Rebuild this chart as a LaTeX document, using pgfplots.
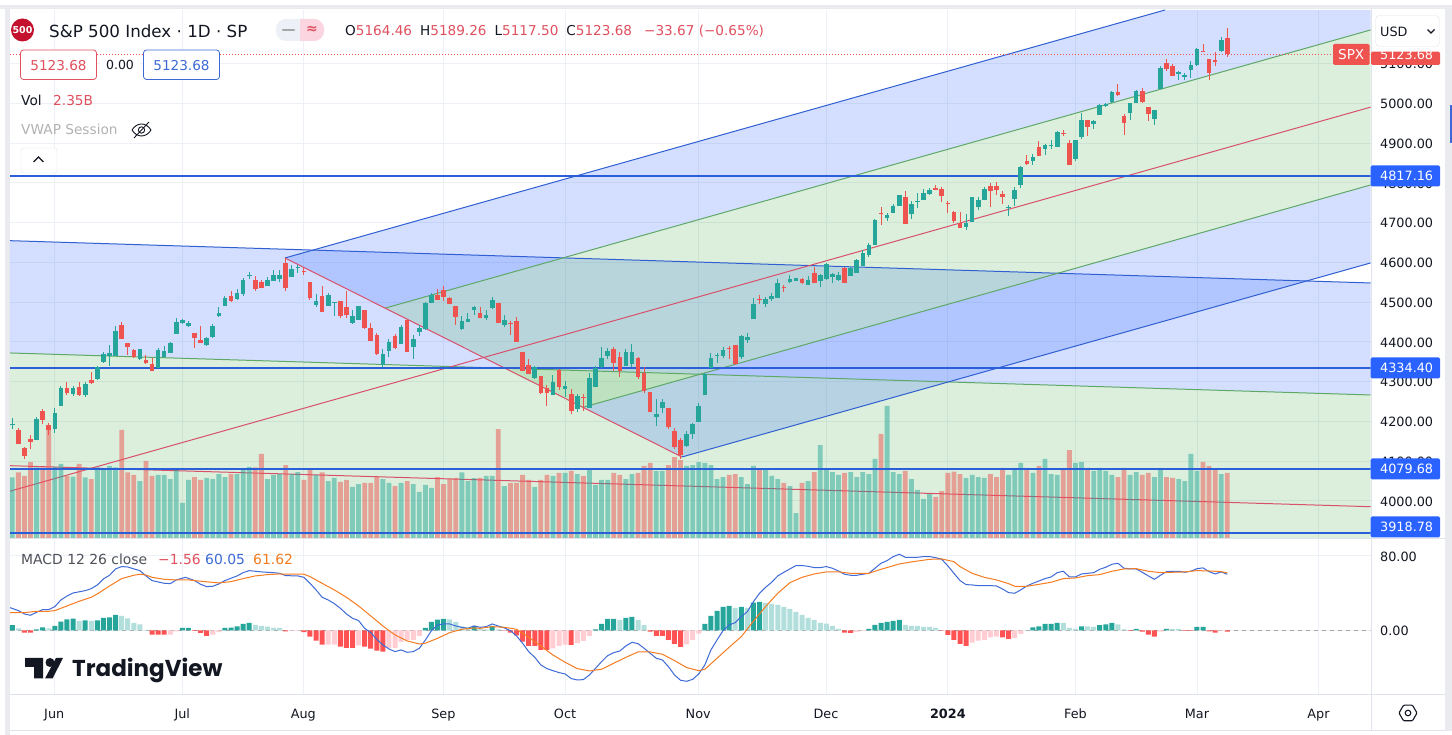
\documentclass[border=0pt]{standalone}
\usepackage{pgfplots}
\usepackage{pgfplotstable}
\usepackage{fontspec}
\pgfplotsset{compat=1.18}
\setmainfont{DejaVu Sans}
\newfontfamily\logofont{Poppins}
\definecolor{cg}{HTML}{26A69A}
\definecolor{cr}{HTML}{EF5350}
\definecolor{hdg}{HTML}{26A69A}
\definecolor{hlg}{HTML}{B2DFDB}
\definecolor{hdr}{HTML}{FF5252}
\definecolor{hlr}{HTML}{FFCDD2}
\definecolor{fb}{HTML}{2962FF}
\definecolor{fg}{HTML}{4CAF50}
\definecolor{lb}{HTML}{2F5FD0}
\definecolor{lg}{HTML}{5FA868}
\definecolor{lr}{HTML}{D9506A}
\definecolor{hl}{HTML}{2B5FD9}
\definecolor{lab}{HTML}{2962FF}
\definecolor{txt}{HTML}{131722}
\definecolor{gridc}{HTML}{EDF0F6}
\definecolor{sep}{HTML}{E0E3EB}
\definecolor{band}{HTML}{E9EBEE}
\definecolor{mb}{HTML}{3D6AD6}
\definecolor{mo}{HTML}{F57C20}
\definecolor{ttr}{HTML}{E0505E}
\definecolor{circ}{HTML}{C4122E}
\definecolor{pil}{HTML}{FBD5E0}

\pgfplotstableread{
i o h l c v
0 4190.5 4207 4180 4193 2.19
4 4153 4211.5 4152 4205.6 2.55
7 4180.5 4232.5 4171 4220.7 2.57
8 4238 4289.5 4238 4283.7 2.67
10 4268.5 4289.5 4264 4283.7 2.22
12 4266 4299 4262 4293.7 2.19
14 4307 4339 4305 4337 2.55
15 4350 4375 4347 4369 2.48
16 4363 4392 4339 4371 2.60
17 4363 4440 4363 4428 2.55
21 4356 4382 4353 4382 2.06
24 4335 4384 4335 4379 2.28
25 4362.5 4389 4359 4376 2.28
26 4372.5 4398.5 4372 4398 2.13
27 4419.5 4459 4419 4450.5 2.46
28 4448 4458 4445 4455 1.28
29 4440 4453 4437 4447 2.10
32 4392 4411 4389 4409 2.17
33 4412 4445 4409 4440 2.13
34 4465 4487 4462 4472 2.31
35 4490 4516 4490 4510 2.20
37 4508 4533 4505 4523 2.31
38 4520 4560 4516 4555 2.48
39 4565.5 4576 4558 4567 2.57
42 4540 4562 4540 4555 2.13
43 4553 4580.5 4553 4568 2.28
44 4558 4580.5 4549.5 4568 2.31
46 4564 4593 4562 4583 2.31
47 4585.5 4593 4574 4587 2.38
50 4492.5 4520 4486.6 4503.4 2.28
52 4490 4522 4490 4517.6 2.06
53 4498 4501 4465 4501 2.17
56 4448 4480 4445 4465 1.85
57 4455 4490 4455 4490 1.95
61 4340.7 4381 4337 4369 2.13
62 4377.6 4406 4361 4400 1.99
64 4394 4442 4394 4438 1.99
66 4387 4417 4357 4406 1.95
67 4424.5 4442 4414.5 4434.6 1.67
68 4431 4500 4429.6 4498 1.92
69 4498 4522 4496.7 4517 1.81
74 4431 4465 4429.6 4451 2.37
75 4450 4473 4450 4457 2.06
76 4480 4490 4467 4487 2.16
78 4460 4480 4455 4468 2.24
79 4484 4513.5 4482.5 4506 2.24
81 4443 4467 4436 4455 1.88
86 4308 4339 4305.5 4336 1.85
89 4265 4316 4265 4299 2.24
91 4282 4301 4262 4289 2.35
93 4232 4268 4222 4264 2.31
95 4234 4322 4234 4309 2.46
96 4287 4339 4285 4333 1.92
97 4336 4386 4334 4359 2.10
98 4364 4383.5 4356 4377 2.10
101 4339 4383 4339 4374 2.13
102 4344 4394 4336 4374 2.31
106 4210 4257 4188 4218 2.42
107 4234 4256 4220 4248.5 2.42
111 4138 4176 4134 4168 2.60
112 4168 4195 4155 4193 2.63
113 4198 4245 4198 4238 2.74
114 4266 4320.6 4266 4319 2.71
115 4334 4372.6 4333 4359 2.63
116 4365 4372.6 4347.5 4367 2.13
117 4364 4386 4358 4379 2.20
120 4362.5 4417 4356 4414.5 2.20
121 4404.5 4421 4398 4412 1.95
122 4458 4509 4458 4495 2.60
124 4495 4513.5 4488 4508.5 2.46
125 4507 4523.6 4503.5 4515 2.24
126 4510 4557 4510 4549 2.13
128 4550 4568 4547 4559 1.88
129 4554 4561 4553 4560.5 0.91
131 4544 4565.5 4542 4555.5 2.06
133 4554 4570 4539 4569 3.35
134 4557 4599 4555.5 4596 2.46
135 4564 4572 4549 4570.6 2.38
136 4555.5 4575.6 4554 4567 2.28
138 4565.5 4587 4565 4585.6 2.38
139 4574 4607.5 4572 4606 2.20
140 4590.7 4631 4590 4622.6 2.38
141 4617.5 4648 4614 4643 2.31
142 4643.5 4708 4643 4706 2.85
144 4711 4725 4705 4720 4.75
145 4725 4747 4723 4741.6 2.38
146 4741.6 4769 4741 4769 2.31
148 4721.5 4753 4709 4746.6 2.13
149 4752.5 4773.5 4736.6 4755 1.74
150 4756.7 4783.5 4756 4774 1.42
151 4772 4786 4770 4782 1.59
157 4689.6 4721.5 4681 4699.6 2.17
158 4702 4764 4702 4764 2.28
159 4738 4765 4731.5 4756.7 2.20
160 4756.7 4790 4756 4784 2.17
164 4735.7 4743 4717 4738 2.28
165 4759 4788.6 4741.6 4782 2.53
166 4794 4842 4787 4840.5 2.71
168 4854 4871.6 4845 4865.7 2.35
170 4886 4897.6 4870.7 4895 2.85
171 4891.7 4907.6 4884 4894 2.31
172 4890 4931 4889 4928.6 2.28
175 4859 4907.6 4855 4907.6 2.71
176 4915 4974.7 4909 4958 2.74
178 4947 4958 4935 4955.5 2.42
179 4970.5 4997 4970 4995.7 2.53
180 4993 5000 4990.7 4998 2.42
181 5002 5031 5001.6 5028 2.28
184 4974.7 5001.6 4958 5001.6 2.28
185 5000.7 5033.5 5000 5031 2.38
188 4960.5 4983 4945 4982 2.20
189 5036 5094 5035 5088 2.53
192 5073.7 5082 5058.6 5078.7 2.13
193 5067 5077 5058.6 5072 2.06
194 5083.8 5105.6 5063.6 5096 3.03
195 5096 5140 5095 5135.8 2.42
199 5132 5166 5130 5159 2.31
}\upc

\pgfplotstableread{
i o h l c v
1 4178 4184 4142 4143 2.37
2 4133 4134 4106 4112 2.24
3 4155 4165 4130 4148 2.74
5 4226 4230 4193 4203 2.55
6 4190.5 4196 4165 4178 3.89
9 4283.7 4299 4266 4270 2.24
11 4287 4299 4264 4266 2.67
13 4304 4324 4293 4296 2.13
18 4442 4450 4406 4407 3.89
19 4396 4398 4367 4388 2.37
20 4379 4383 4359 4362.5 2.28
22 4354 4367 4343 4346 2.78
23 4343 4359 4327 4327 2.24
30 4422 4422 4384 4409 2.20
31 4404 4440 4397 4398 2.10
36 4515 4528 4501 4503 2.31
40 4555 4565.5 4528 4532 2.55
41 4550 4555 4535 4535 3.03
45 4599 4610.7 4528.5 4535 2.63
48 4578 4585 4568 4576 2.10
49 4549.5 4550 4505 4509 2.46
51 4515 4540 4475 4475 2.37
54 4501.7 4502.5 4461 4465 2.03
55 4487.4 4528.5 4461 4467 2.10
58 4480 4480 4433 4434.6 1.99
59 4434.6 4448 4402 4402 1.99
60 4418 4421 4367 4368 2.22
63 4414.5 4419.5 4382.6 4384 1.88
65 4455 4456 4374 4374 2.06
70 4517.6 4532 4505 4505 2.20
71 4530 4540 4503.4 4513.4 1.95
72 4510 4513 4494 4495 2.13
73 4490 4490 4442 4463 2.17
77 4473 4488 4459 4459 2.17
80 4497 4498 4448 4448 3.92
82 4446 4452 4417 4445 1.99
83 4452 4461.5 4400 4400 1.99
84 4373.5 4375 4327 4327 2.28
85 4341 4356 4318 4319 2.10
87 4314 4314 4268.6 4272 2.10
88 4284 4291 4239 4272 2.28
90 4329 4331 4279 4287 2.35
92 4269 4281 4217 4227 2.42
94 4260 4268 4226 4259 2.24
99 4383 4386 4327 4347.5 2.35
100 4362 4375 4312 4326 2.28
103 4358 4362.5 4305.5 4312 2.35
104 4321 4337 4270 4277 2.60
105 4274 4274.5 4222 4222 2.71
108 4234 4234 4181 4185 2.63
109 4176 4183 4129 4134 2.92
110 4153 4157 4104 4115 2.81
118 4384 4389 4357.5 4383 2.28
119 4393 4393 4342 4344 2.31
123 4507 4518.5 4495 4505 2.49
127 4537 4543 4525 4535 1.99
130 4557 4560.5 4545 4549 1.99
132 4574 4589 4547 4549 2.38
137 4585.6 4587 4549 4549 2.35
143 4723 4738 4694 4720.6 3.75
147 4764 4778.5 4697 4697 2.42
152 4787 4793.6 4782 4782.7 1.49
153 4784 4788.6 4751.6 4766.7 1.70
154 4750 4753 4723 4748 2.35
155 4726.5 4728 4699.6 4704.7 2.40
156 4698 4726.5 4686 4686 2.31
161 4792 4800 4740 4779 2.31
162 4792 4801 4768 4782 2.20
163 4772 4780 4746.6 4763 2.53
167 4854 4869 4845 4847 2.53
169 4891 4905 4867 4867 2.60
173 4926 4933 4917.7 4923.6 2.46
174 4900 4907.6 4844 4844.7 3.17
177 4958 4958 4917.7 4941 2.53
182 5027.6 5048.5 5018 5020 2.20
183 4968 4972 4920 4950 2.53
186 5031 5037.6 5001.6 5003 2.28
187 4990.7 4991.5 4956 4973 2.35
190 5102 5110.6 5082 5086 2.20
191 5094 5098 5068 5068.7 2.17
196 5131.6 5149 5129 5129 2.74
197 5110.6 5111.5 5058.6 5076 2.60
198 5109 5128 5094.7 5104 2.49
200 5164.46 5189.26 5117.50 5123.68 2.35
}\dnc

\pgfplotsset{
  tv/.style={
    scale only axis, width=1360.5pt,
    xmin=-0.38, xmax=223.57,
    tick style={draw=none},
    axis line style={draw=none},
    clip=true,
  },
  ticktxt/.style={
    yticklabel pos=right,
    yticklabel style={anchor=west,inner sep=0pt,xshift=9.5pt,yshift=-0.8pt,font=\fontsize{12.8}{15}\selectfont,text=txt,
      /pgf/number format/.cd,fixed,fixed zerofill,precision=2,1000 sep={},assume math mode=true},
  },
}

\begin{document}
\begin{tikzpicture}[x=1pt,y=1pt]
\fill[white] (0,0) rectangle (1452,735);
\fill[band] (0,726) rectangle (1452,730);
\fill[band] (5,0) rectangle (10,726);
\fill[band] (1445,4) rectangle (1452,726);

% ---- main pane: channels
\begin{axis}[tv, at={(10pt,196.5pt)}, anchor=south west, height=528.5pt,
  ymin=3905, ymax=5234.7, ticktxt,
  ytick={4000,4100,4200,4300,4400,4500,4600,4700,4800,4900,5000,5100},
  xtick={6.9,27.98,47.9,70.95,90.98,112.9,133.94,154,175,195,215},
  xticklabels={},
  grid=both, grid style={gridc,line width=0.8pt}]
% descending channel
\addplot[fill=fb,fill opacity=.2,draw=none] coordinates {(-0.38,4654.3)(223.57,4547.9)(223.57,4266.1)(-0.38,4371.8)} -- cycle;
\addplot[fill=fg,fill opacity=.2,draw=none] coordinates {(-0.38,4371.8)(223.57,4266.1)(223.57,3905)(-0.38,3905)} -- cycle;
% rising pitchfork
\addplot[fill=fb,fill opacity=.2,draw=none] coordinates {(44.89,4610.8)(189.75,5234.7)(223.57,5234.7)(223.57,5184.4)(61.35,4484.5)} -- cycle;
\addplot[fill=fg,fill opacity=.2,draw=none] coordinates {(61.35,4484.5)(223.57,5184.4)(223.57,4794.4)(93.94,4235.1)} -- cycle;
\addplot[fill=fb,fill opacity=.2,draw=none] coordinates {(93.94,4235.1)(223.57,4794.4)(223.57,4598.2)(110.24,4110.1)} -- cycle;
% lines
\addplot[lb,line width=1pt] coordinates {(-0.38,4654.3)(223.57,4547.9)};
\addplot[lg,line width=1pt] coordinates {(-0.38,4371.8)(223.57,4266.1)};
\addplot[lr,line width=1pt] coordinates {(-0.38,4088.2)(223.57,3985)};
\addplot[lb,line width=1pt] coordinates {(44.89,4610.8)(189.75,5234.7)};
\addplot[lb,line width=1pt] coordinates {(110.24,4110.1)(223.57,4598.2)};
\addplot[lg,line width=1pt] coordinates {(61.35,4484.5)(223.57,5184.4)};
\addplot[lg,line width=1pt] coordinates {(93.94,4235.1)(223.57,4794.4)};
\addplot[lr,line width=1pt] coordinates {(-0.38,4024)(223.57,4990.2)};
\addplot[lr,line width=1pt] coordinates {(44.89,4610.8)(110.24,4110.1)};
\end{axis}

% ---- volume
\begin{axis}[tv, at={(10pt,196.5pt)}, anchor=south west, height=528.5pt,
  ymin=0, ymax=18.94, xtick=\empty, ytick=\empty]
\addplot[ybar,bar width=4.8pt,bar shift=0pt,fill=cg,fill opacity=.5,draw=none] table[x=i,y=v] {\upc};
\addplot[ybar,bar width=4.8pt,bar shift=0pt,fill=cr,fill opacity=.5,draw=none] table[x=i,y=v] {\dnc};
\end{axis}

% ---- candles and horizontal levels
\begin{axis}[tv, at={(10pt,196.5pt)}, anchor=south west, height=528.5pt,
  ymin=3905, ymax=5234.7, xtick=\empty, ytick=\empty]
\addplot[hl,line width=2pt] coordinates {(-0.38,4817.16)(223.57,4817.16)};
\addplot[hl,line width=2pt] coordinates {(-0.38,4334.40)(223.57,4334.40)};
\addplot[hl,line width=2pt] coordinates {(-0.38,4079.68)(223.57,4079.68)};
\addplot[hl,line width=2pt] coordinates {(-0.38,3918.78)(223.57,3918.78)};
\addplot[cr,line width=0.7pt,dash pattern=on 1pt off 2pt] coordinates {(-0.38,5123.68)(223.57,5123.68)};
% wicks
\addplot[draw=none,mark=none,error bars/.cd,y dir=plus,y explicit,error mark=none,
  error bar style={draw=cg,line width=1pt,solid}] table[x=i,y=l,y error expr=\thisrow{h}-\thisrow{l}] {\upc};
\addplot[draw=none,mark=none,error bars/.cd,y dir=plus,y explicit,error mark=none,
  error bar style={draw=cr,line width=1pt,solid}] table[x=i,y=l,y error expr=\thisrow{h}-\thisrow{l}] {\dnc};
% bodies
\addplot[draw=none,mark=none,error bars/.cd,y dir=plus,y explicit,error mark=none,
  error bar style={draw=cg,line width=4.6pt,solid}] table[x=i,y=o,y error expr=\thisrow{c}-\thisrow{o}] {\upc};
\addplot[draw=none,mark=none,error bars/.cd,y dir=plus,y explicit,error mark=none,
  error bar style={draw=cr,line width=4.6pt,solid}] table[x=i,y=c,y error expr=\thisrow{o}-\thisrow{c}] {\dnc};
\end{axis}

% ---- MACD pane
\begin{axis}[tv, at={(10pt,40pt)}, anchor=south west, height=156pt,
  ymin=-69.4, ymax=97.9, ticktxt, ytick={0,80},
  xtick={6.9,27.98,47.9,70.95,90.98,112.9,133.94,154,175,195,215},
  xticklabels={Jun,Jul,Aug,Sep,Oct,Nov,Dec,\textbf{2024},Feb,Mar,Apr},
  xticklabel style={inner sep=0pt,yshift=-13.5pt,font=\fontsize{12.8}{15}\selectfont,text=txt},
  grid=both, grid style={gridc,line width=0.8pt}]
\addplot[gray!70,line width=0.8pt,dash pattern=on 4pt off 4pt] coordinates {(-0.38,0)(223.57,0)};
\addplot[ybar,bar width=5pt,bar shift=0pt,fill=hdg,draw=none] coordinates {(0,5.4)(4,1.1)(5,3.2)(7,4.6)(8,9.3)(9,11.8)(10,12.5)(12,10.7)(14,10.7)(15,13.2)(16,13.9)(17,16.4)(28,2.5)(29,2.5)(35,2.5)(36,2.9)(37,4.3)(38,6.8)(39,7.9)(68,2.5)(69,8.9)(70,11.4)(71,12.2)(76,4.6)(79,4.6)(96,1.1)(97,6.8)(98,12.2)(99,12.2)(101,13.2)(102,14.3)(114,6.8)(115,15.4)(116,20.7)(117,25)(118,26.1)(120,25)(122,29.7)(123,30.4)(141,1.4)(142,5.7)(143,7.9)(144,8.9)(145,10)(146,11.1)(168,3.2)(169,4.3)(170,6.8)(171,6.8)(172,7.9)(176,4.3)(179,5.4)(180,6.4)(181,7.9)(185,1.4)(190,1.4)(195,3.6)(196,3.6)};
\addplot[ybar,bar width=5pt,bar shift=0pt,fill=hlg,draw=none] coordinates {(1,2.1)(6,2.1)(11,10)(13,10)(18,15.4)(19,12.9)(20,7.9)(21,6.4)(22,0.4)(40,5.7)(41,4.6)(42,3.9)(43,2.5)(44,2.5)(72,11.8)(73,8.9)(74,3.9)(75,3.2)(77,2.1)(78,1.1)(80,1.1)(100,11.1)(103,11.1)(104,5.4)(119,24)(121,24)(124,29.3)(125,28.2)(126,27.2)(127,25)(128,22.9)(129,19.7)(130,16.4)(131,13.2)(132,11.1)(133,7.9)(134,7.2)(135,4.6)(136,1.4)(147,5.7)(148,4.6)(149,4.6)(150,3.6)(151,3.6)(152,2.5)(167,0.2)(173,7.9)(174,2.5)(175,1.4)(177,4.3)(178,3.6)(182,6.4)(183,1.1)(191,1.4)(192,1.4)};
\addplot[ybar,bar width=5pt,bar shift=0pt,fill=hdr,draw=none] coordinates {(2,-2.5)(3,-2.5)(23,-4.6)(24,-4.6)(25,-4.6)(30,-0.7)(31,-2.9)(32,-6.1)(45,-1.1)(48,-2.1)(49,-6.8)(50,-11.1)(51,-15.4)(54,-17.5)(55,-18.9)(56,-18.9)(58,-17.5)(59,-19.7)(60,-21.8)(61,-22.9)(81,-0.4)(82,-2.5)(83,-5.4)(84,-12.2)(85,-16.8)(86,-16.8)(87,-21.1)(88,-21.1)(92,-15.7)(105,-1.4)(106,-6.1)(107,-6.1)(108,-10.4)(109,-14.7)(110,-17.9)(137,-2.5)(138,-2.9)(153,-0.4)(154,-5)(155,-10.4)(156,-14.7)(157,-16.8)(163,-7.5)(164,-9.3)(184,-0.7)(186,-1.4)(187,-4.6)(188,-6.8)(193,-0.7)(194,-0.7)(197,-1.1)(198,-2.5)(200,-1.56)};
\addplot[ybar,bar width=5pt,bar shift=0pt,fill=hlr,draw=none] coordinates {(26,-4.6)(27,-1.1)(33,-4.6)(34,-2.1)(46,-0.7)(47,-0.7)(52,-15.4)(53,-15.4)(57,-16.1)(62,-18.9)(63,-18.9)(64,-12.5)(65,-10.4)(66,-10.4)(67,-6.1)(89,-19.3)(90,-16.8)(91,-15.4)(93,-13.9)(94,-11.4)(95,-6.1)(111,-15)(112,-10.4)(113,-3.6)(139,-1.8)(140,-0.7)(158,-13.2)(159,-11.1)(160,-10.4)(161,-7.5)(162,-6.8)(165,-8.2)(166,-3.9)(189,-1.4)(199,-0.7)};
\addplot[mb,line width=1pt] coordinates {(-0.38,24.3)(1,21.1)(2,17.5)(3,16.1)(4,19.3)(5,22.2)(6,22.2)(7,25.4)(8,32.5)(9,36.8)(10,40)(12,42.5)(13,44.7)(14,48.6)(15,55.1)(16,59)(17,65.8)(18,68.3)(19,67.9)(20,65.8)(21,64)(22,58.3)(23,53.3)(25,50.4)(26,50)(27,54)(28.5,56.8)(30,53.3)(31,49.3)(32,46.8)(33,47.2)(34,49.7)(35,53.3)(37,58.3)(38,61.8)(39,64)(41,62.6)(43,61.8)(44,61.1)(45,58.6)(47,58.3)(48,56.8)(49,50.4)(50,43.3)(51,35.4)(52,32.5)(53,28.6)(54,23.6)(55,17.5)(56,12.9)(57,10.4)(58,2.1)(59,-2.5)(60,-9.7)(61,-15.7)(62,-20)(63,-22.9)(64,-21.1)(65,-23.6)(66,-22.9)(67,-19.3)(68,-10.4)(69,-0.4)(70,5.7)(71,6.8)(72,6.8)(73,4.6)(74,3.2)(75,2.1)(76,4.6)(77,3.2)(78,3.9)(79,6.8)(80,4.6)(81,2.5)(82,-0.4)(83,-6.1)(84,-13.9)(85,-22.9)(86,-29)(87,-37.2)(88,-41.1)(89,-43.3)(90,-45.4)(91,-46.8)(92,-51.8)(93,-53.3)(94,-52.9)(95,-47.9)(96,-40.8)(97,-33.6)(98,-27.2)(99,-24)(100,-22.2)(101,-16.8)(102,-12.9)(103,-14.3)(104,-19.3)(105,-24.7)(106,-30)(107,-31.8)(108,-39)(109,-47.9)(110,-53.6)(111,-54.7)(112,-52.6)(113,-46.8)(114,-37.2)(115,-21.1)(116,-10.4)(117,-0.4)(118,5.7)(119,8.2)(120,14.7)(121,20)(122,30.7)(123,39.7)(124,46.1)(125,51.5)(126,58.3)(127,62.2)(128,65.8)(129,69.4)(130,69.4)(131,68.6)(132,67.2)(133,67.2)(134,68.3)(135,66.5)(136,63.6)(137,60.1)(138,59)(139,59)(140,60.1)(141,61.1)(142,66.5)(143,71.9)(144,74.7)(145,79)(146,81.5)(147,78.3)(148,78.3)(149,78.3)(150,79)(151,79)(152,77.9)(153,76.1)(154,69)(155,61.1)(156,53.3)(157,49)(158,48.6)(159,47.9)(160,47.9)(161,47.9)(162,47.5)(163,44.3)(164,40.4)(165,39.7)(166,43.3)(167,47.5)(168,50.4)(169,52.9)(170,55.4)(171,57.2)(172,61.8)(173,63.3)(174,57.2)(175,57.2)(176,60.4)(177,61.1)(178,61.8)(179,65.4)(180,67.6)(181,70.8)(182,71.9)(183,66.5)(184,65.8)(185,65.8)(186,62.2)(187,58.3)(188,54.7)(189,59)(190,62.9)(191,63.3)(192,63.3)(193,62.2)(194,63.3)(195,66.1)(196,66.9)(197,62.9)(198,60.4)(199,62.6)(200,60.05)};
\addplot[mo,line width=1pt] coordinates {(-0.38,18.9)(2,18.9)(4,20.4)(6,20.4)(7,21.1)(9,26.1)(11,31.1)(13,35.4)(14,39)(16,47.5)(18,55.4)(20,59)(21,60.1)(22,59.3)(23,56.8)(25,54.7)(27,54)(29,54)(31,52.6)(34,50.8)(36,52.2)(38,55.4)(40,58.3)(42,59.7)(44,60.4)(46,60.1)(48,60.1)(49,57.6)(51,50.4)(53,43.3)(55,35.4)(57,26.1)(59,15.4)(61,4.6)(63,-5)(65,-11.4)(67,-14.7)(68,-13.9)(70,-8.6)(72,-2.5)(74,1.1)(76,2.5)(77,2.1)(79,3.9)(81,3.2)(83,1.1)(85,-7.5)(87,-16.8)(89,-26.5)(91,-34.3)(93,-41.1)(95,-43.6)(97,-41.8)(99,-35.4)(101,-29)(103,-23.2)(105,-23.2)(107,-25.7)(109,-32.5)(111,-40)(113,-43.3)(114,-41.8)(116,-30)(118,-18.2)(120,-6.8)(122,9.7)(124,25.4)(126,39.7)(128,51.1)(130,56.8)(132,60.4)(134,62.6)(136,62.6)(138,61.1)(141,61.1)(143,65.4)(146,71.1)(148,73.3)(151,76.1)(153,76.5)(155,73.6)(156,68.3)(158,61.1)(160,56.8)(162,54)(164,50)(165,47.2)(167,47.2)(169,49.3)(171,51.5)(173,55.4)(175,56.1)(177,58.6)(179,59.7)(181,63.3)(183,65.8)(185,66.1)(187,63.3)(189,61.8)(191,62.2)(193,62.6)(195,64)(197,63.6)(199,62.9)(200,61.62)};
\end{axis}

% ---- separators
\draw[sep,line width=1pt] (10,196) -- (1445,196);
\draw[sep,line width=1pt] (10,40) -- (1445,40);
\draw[sep,line width=1.5pt] (10,4.5) -- (1445,4.5);
\draw[sep,line width=1pt] (1371,726) -- (1371,5);

% ---- header
\begin{scope}[every node/.style={inner sep=0pt,text=txt}]
\fill[circ] (22.5,705) circle (11.5);
\node[text=white,font=\fontsize{9.5}{12}\selectfont\bfseries] at (22.5,705) {500};
\node[anchor=base west,font=\fontsize{16.7}{20}\selectfont] at (49,697.5) {S\&P 500 Index · 1D · SP};
% pill
\fill[gridc,rounded corners=10pt] (276,694) rectangle (324,716);
\fill[pil,rounded corners=10pt] (300,694) rectangle (324,716);
\fill[pil] (300,694) rectangle (312,716);
\draw[gray!70,line width=2.5pt,line cap=round] (283,705) -- (294,705);
\node[text=ttr,font=\fontsize{14}{16}\selectfont\bfseries] at (312,705) {≈};
\node[anchor=base west,font=\fontsize{13.6}{16}\selectfont] at (345,699)
  {O\textcolor{ttr}{5164.46}\hspace{8pt}H\textcolor{ttr}{5189.26}\hspace{8pt}L\textcolor{ttr}{5117.50}\hspace{8pt}C\textcolor{ttr}{5123.68}\hspace{12pt}\textcolor{ttr}{−33.67 (−0.65\%)}};
% price boxes
\draw[ttr,fill=white,rounded corners=3pt,line width=0.8pt] (20.5,655.5) rectangle (96.5,685);
\node[text=ttr,font=\fontsize{13.6}{16}\selectfont] at (58.5,669.5) {5123.68};
\fill[white] (100,660) rectangle (140,680);
\node[font=\fontsize{12.5}{15}\selectfont] at (120,670) {0.00};
\draw[mb,fill=white,rounded corners=3pt,line width=0.8pt] (143.5,655.5) rectangle (219.5,685);
\node[text=mb,font=\fontsize{13.6}{16}\selectfont] at (181.5,669.5) {5123.68};
% vol
\node[anchor=base west,font=\fontsize{13.7}{16}\selectfont] at (21,629.5) {Vol};
\node[anchor=base west,text=ttr,font=\fontsize{13.7}{16}\selectfont] at (53,629.5) {2.35B};
\node[anchor=base west,text=gray!60,font=\fontsize{13.7}{16}\selectfont] at (21,600) {VWAP Session};
% hidden eye icon
\draw[txt,line width=0.9pt] (132,605) .. controls (137,613) and (146,613) .. (151,605) .. controls (146,597) and (137,597) .. (132,605);
\draw[txt,line width=0.9pt] (141.5,605) circle (3.2);
\draw[txt,line width=0.9pt] (134,597) -- (149,613);
% collapse button
\draw[sep,fill=white,rounded corners=2.5pt] (21,562) rectangle (57,587);
\draw[txt,line width=1.2pt] (33.5,573) -- (38.5,578) -- (43.5,573);
% MACD title
\node[anchor=base west,text=txt!75,font=\fontsize{13.9}{16}\selectfont] at (21,170) {MACD 12 26 close};
\node[anchor=base west,text=ttr,font=\fontsize{13.9}{16}\selectfont] at (158,170) {−1.56};
\node[anchor=base west,text=mb,font=\fontsize{13.9}{16}\selectfont] at (205,170) {60.05};
\node[anchor=base west,text=mo,font=\fontsize{13.9}{16}\selectfont] at (253,170) {61.62};
% logo
\fill[txt] (25,77) -- (43,77) -- (43,56.5) -- (34,56.5) -- (34,68) -- (25,68) -- cycle;
\fill[txt] (50,72.5) circle (4.5);
\fill[txt] (56,77) -- (63,77) -- (52.5,56.5) -- (45,56.5) -- cycle;
\node[anchor=base west,font=\logofont\fontsize{23}{26}\selectfont\bfseries] at (72,58.5) {TradingView};
% price scale labels
\fill[white] (1371.5,686) rectangle (1445,725);
\fill[cr,rounded corners=1.5pt] (1333,670) rectangle (1369.5,691);
\node[text=white,font=\fontsize{13.6}{16}\selectfont] at (1351.2,680.5) {SPX};
\fill[cr,rounded corners=1.5pt] (1371,670) rectangle (1440,683.3);
\begin{scope}
\clip (1371,670) rectangle (1440,683.3);
\node[text=white,anchor=west,font=\fontsize{12.8}{15}\selectfont] at (1380,680.5) {5123.68};
\end{scope}
\draw[sep,fill=white,rounded corners=4pt] (1375.5,688.5) rectangle (1439.5,719.5);
\node[anchor=west,font=\fontsize{12.8}{15}\selectfont] at (1380,703.5) {USD};
\draw[txt,line width=1.1pt] (1427.5,705.5) -- (1431,702) -- (1434.5,705.5);
\foreach \yy/\tt in {559/4817.16,367/4334.40,266/4079.68,208/3918.78}{
  \fill[lab,rounded corners=1.5pt] (1370.5,\yy-10.5) rectangle (1440,\yy+10.5);
  \node[text=white,anchor=west,font=\fontsize{12.8}{15}\selectfont] at (1380,\yy) {\tt};
}
% settings icon
\draw[txt,line width=1.1pt,rounded corners=1pt] (1399,22) -- (1403.5,14.2) -- (1412.5,14.2) -- (1417,22) -- (1412.5,29.8) -- (1403.5,29.8) -- cycle;
\draw[txt,line width=1.1pt] (1408,22) circle (2.8);
\end{scope}
\fill[band] (1450,590) rectangle (1452,657);
\fill[mb] (1450,592) rectangle (1452,630);
\end{tikzpicture}
\end{document}
